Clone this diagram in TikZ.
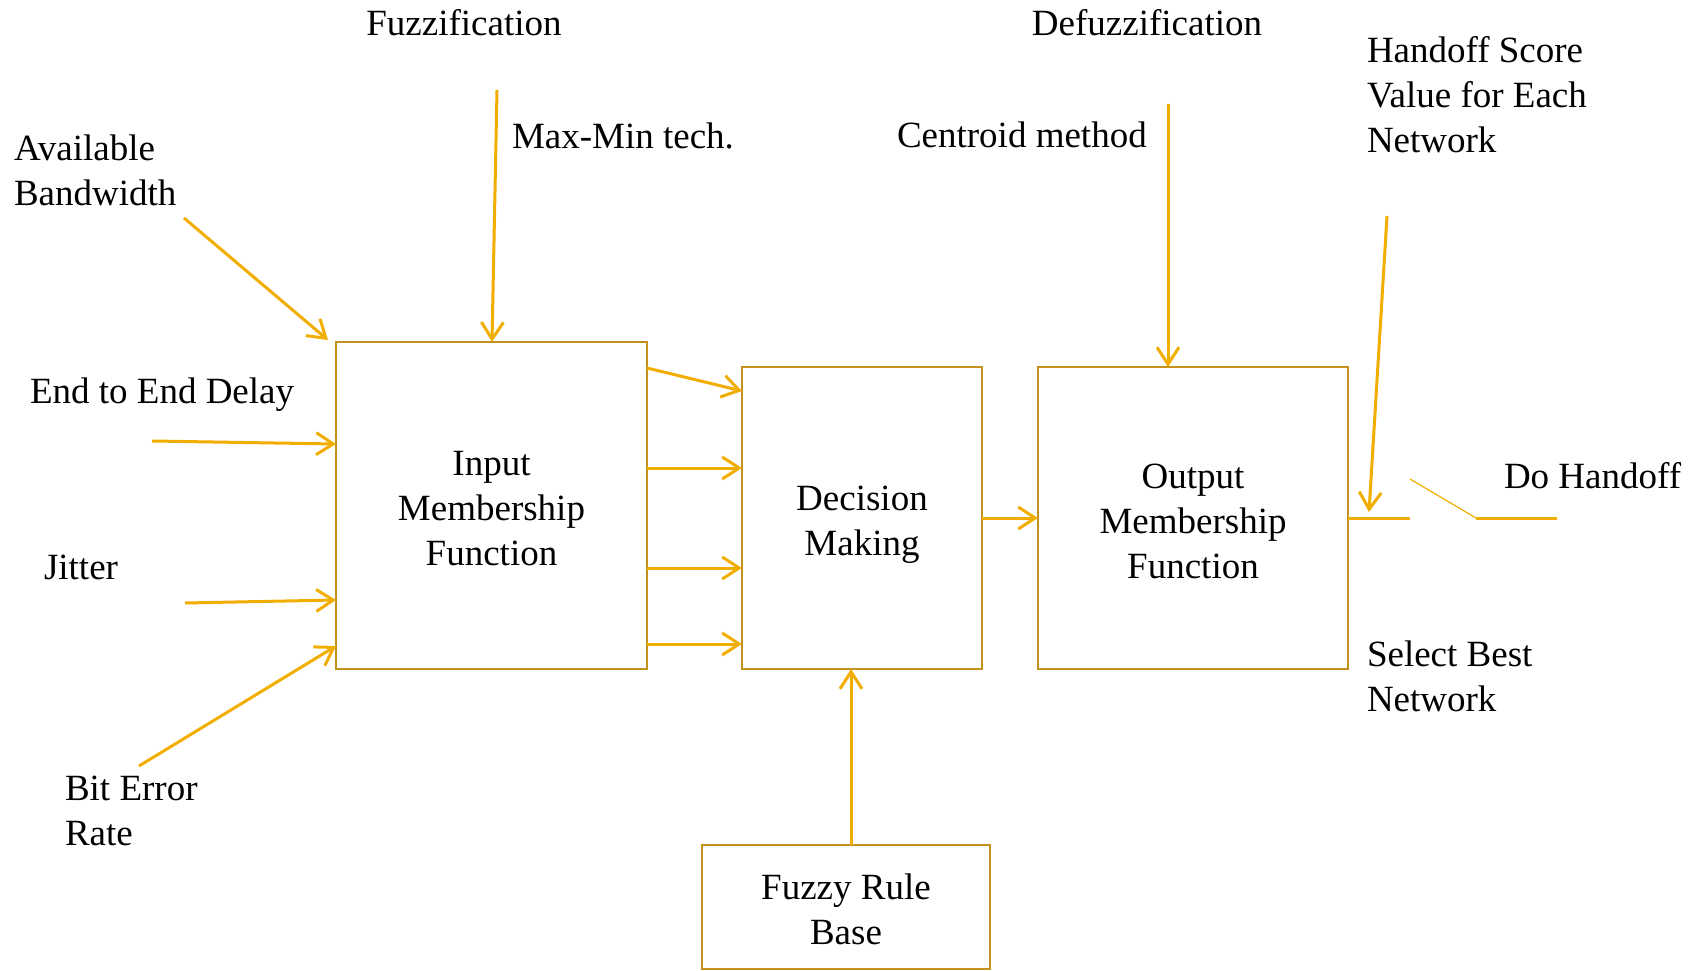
\documentclass[tikz,border=0pt]{standalone}
\usepackage{fontspec}
\setmainfont{Liberation Serif}
\usetikzlibrary{arrows.meta,calc}
\definecolor{arrowgold}{HTML}{F2AE00}
\definecolor{boxgold}{HTML}{C3921C}
\tikzset{
  blockbox/.style={draw=boxgold, line width=2.5pt, fill=white, outer sep=0pt,
    inner sep=0pt, align=center, font=\fontsize{37}{45}\selectfont},
  label/.style={inner sep=0pt, outer sep=0pt, align=left, text=black,
    font=\fontsize{37}{45}\selectfont},
  flow/.style={draw=arrowgold, line width=3pt,
    -{Straight Barb[length=17pt, width=22pt, line width=3pt]}},
  wire/.style={draw=arrowgold, line width=3pt},
  thinwire/.style={draw=arrowgold, line width=1.2pt},
}
\begin{document}
\begin{tikzpicture}[x=1pt, y=-1pt]
\useasboundingbox (0,0) rectangle (1694,971);

% processing blocks
\node[blockbox, minimum width=311pt, minimum height=327pt] (inp) at (491.5,505.5) {};
\node[blockbox, minimum width=240pt, minimum height=302pt] (dec) at (862,518) {};
\node[blockbox, minimum width=310pt, minimum height=302pt] (outp) at (1193,518) {};
\node[blockbox, minimum width=288pt, minimum height=124pt] (rule) at (846,907) {};

% block captions
\node[label, align=center] (inpT) at ($(inp.center)+(0,3)$) {Input\\Membership\\Function};
\node[label, align=center] (decT) at ($(dec.center)+(0,7)$) {Decision\\Making};
\node[label, align=center] (outpT) at ($(outp.center)+(0,3)$) {Output\\Membership\\Function};
\node[label, align=center] (ruleT) at ($(rule.center)+(0,2)$) {Fuzzy Rule\\Base};

% labels
\node[label, anchor=base] (fz) at (464,36) {Fuzzification};
\node[label, anchor=base] (dfz) at (1147,36) {Defuzzification};
\node[label, anchor=base west] (mm) at (512,148) {Max-Min tech.};
\node[label, anchor=base west] (cm) at (897,147) {Centroid method};
\node[label, anchor=north west] (hs) at (1367,36) {Handoff Score\\Value for Each\\Network};
\node[label, anchor=north west] (ab) at (14,135) {Available\\Bandwidth};
\node[label, anchor=base west] (ed) at (30,403) {End to End Delay};
\node[label, anchor=base west] (jt) at (44,579) {Jitter};
\node[label, anchor=north west] (be) at (65,776) {Bit Error\\Rate};
\node[label, anchor=north west] (sb) at (1367,641) {Select Best\\Network};
\node[label, anchor=base west] (dh) at (1504,488) {Do Handoff};

% free ends of the input lines
\coordinate (abS) at (184,218);
\coordinate (edS) at (152,441);
\coordinate (jtS) at (185,603);
\coordinate (beS) at (139,766);
\coordinate (fzS) at (497,90);
\coordinate (dfzS) at (1168,104);
\coordinate (hsS) at (1387,216);
\coordinate (hsT) at (1369,512);

% inputs into the fuzzifier
\draw[flow] (abS) -- ($(inp.north west)+(-8,-2)$);
\draw[flow] (edS) -- (inp.west |- 0,444);
\draw[flow] (jtS) -- (inp.west |- 0,600);
\draw[flow] (beS) -- (inp.west |- 0,646);
\draw[flow] (fzS) -- (inp.north -| 492,0);

% fuzzifier to inference
\draw[flow] (inp.east |- 0,368) -- (dec.west |- 0,391);
\draw[flow] (inp.east |- 0,468) -- (dec.west |- 0,468);
\draw[flow] (inp.east |- 0,568) -- (dec.west |- 0,568);
\draw[flow] (inp.east |- 0,644) -- (dec.west |- 0,644);

% inference to defuzzifier, rule base to inference
\draw[flow] (dec.east) -- (outp.west);
\draw[flow] (rule.north -| 851,0) -- (dec.south -| 851,0);
\draw[flow] (dfzS) -- (outp.north -| 1168,0);

% output side with handoff switch
\draw[flow] (hsS) -- (hsT);
\coordinate (sw1) at (1410,518);
\coordinate (sw2) at (1410,479);
\coordinate (sw3) at (1476,518);
\coordinate (sw4) at (1557,518);
\draw[wire] (outp.east |- sw1) -- (sw1);
\draw[thinwire] (sw2) -- (sw3);
\draw[wire] (sw3) -- (sw4);
\end{tikzpicture}
\end{document}
